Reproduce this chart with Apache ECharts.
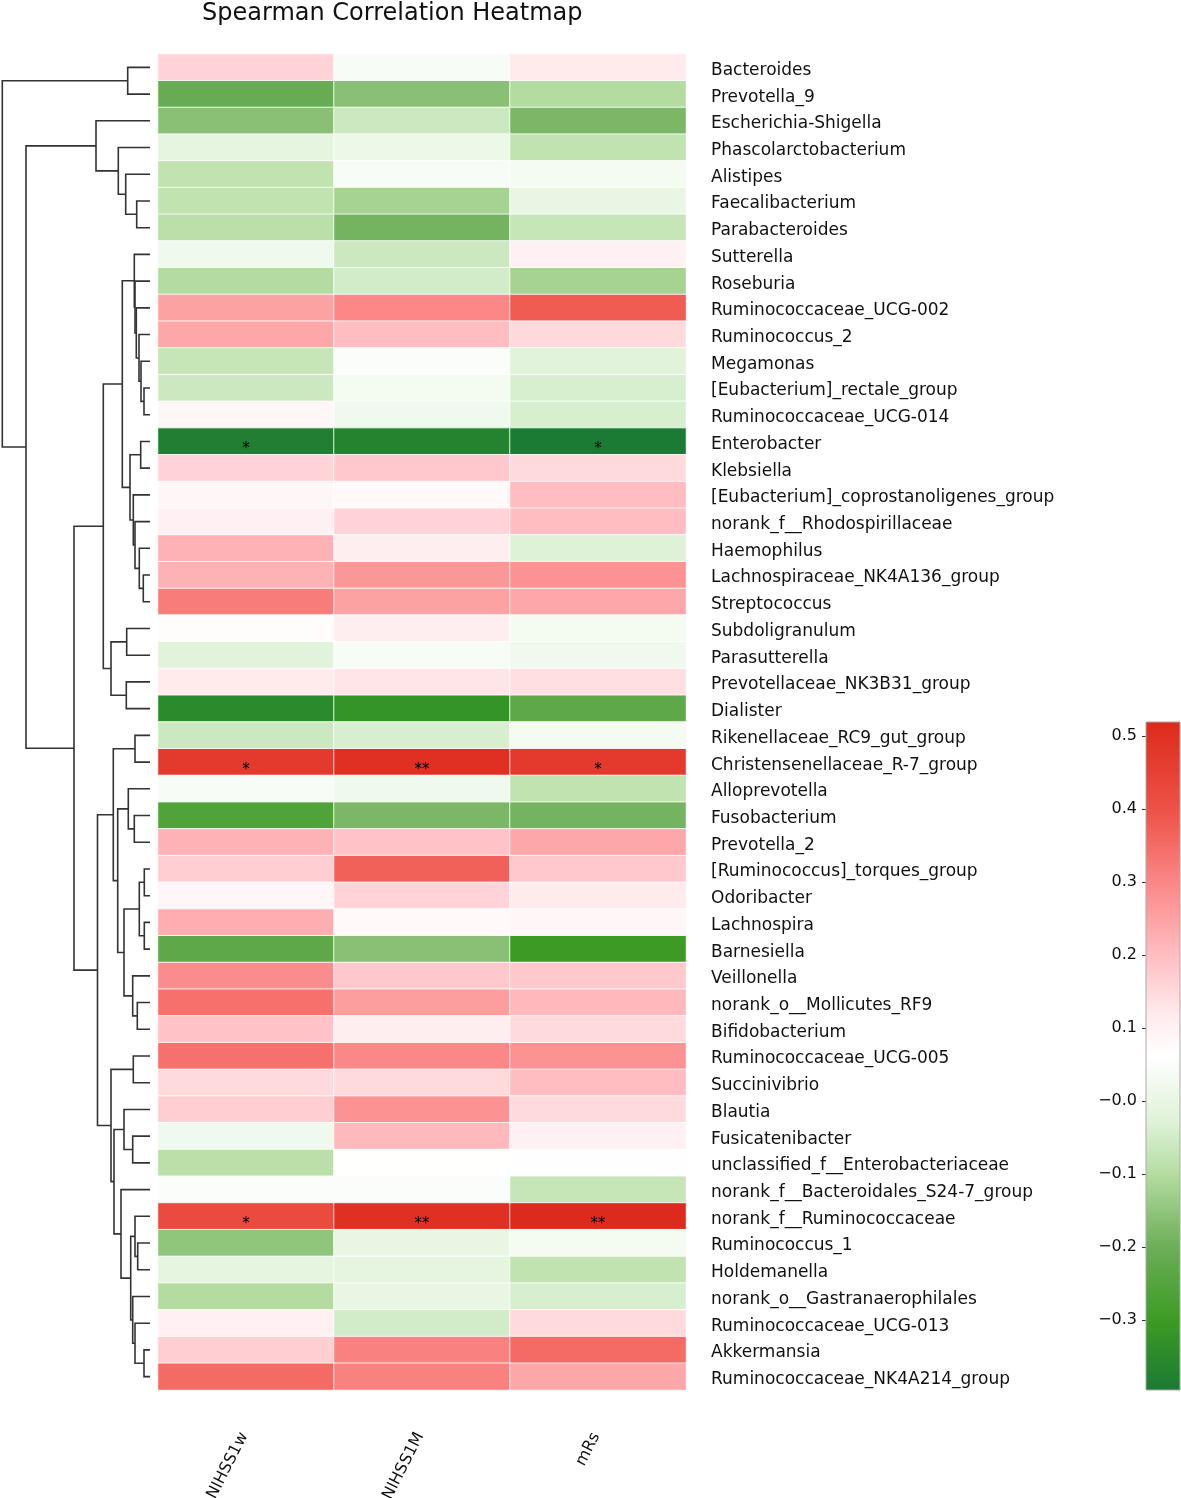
<!DOCTYPE html>
<html><head><meta charset="utf-8">
<script src="https://cdn.jsdelivr.net/npm/echarts@6/dist/echarts.min.js"></script>
<style>html,body{margin:0;padding:0;background:#fff}#chart{width:1181px;height:1498px}</style>
</head><body><div id="chart"></div>
<script>
const columns = ['NIHSS1w', 'NIHSS1M', 'mRs'];
const taxa = ['Bacteroides','Prevotella_9','Escherichia-Shigella','Phascolarctobacterium','Alistipes','Faecalibacterium','Parabacteroides','Sutterella','Roseburia','Ruminococcaceae_UCG-002',
'Ruminococcus_2','Megamonas','[Eubacterium]_rectale_group','Ruminococcaceae_UCG-014','Enterobacter','Klebsiella','[Eubacterium]_coprostanoligenes_group','norank_f__Rhodospirillaceae','Haemophilus','Lachnospiraceae_NK4A136_group',
'Streptococcus','Subdoligranulum','Parasutterella','Prevotellaceae_NK3B31_group','Dialister','Rikenellaceae_RC9_gut_group','Christensenellaceae_R-7_group','Alloprevotella','Fusobacterium','Prevotella_2',
'[Ruminococcus]_torques_group','Odoribacter','Lachnospira','Barnesiella','Veillonella','norank_o__Mollicutes_RF9','Bifidobacterium','Ruminococcaceae_UCG-005','Succinivibrio','Blautia',
'Fusicatenibacter','unclassified_f__Enterobacteriaceae','norank_f__Bacteroidales_S24-7_group','norank_f__Ruminococcaceae','Ruminococcus_1','Holdemanella','norank_o__Gastranaerophilales','Ruminococcaceae_UCG-013','Akkermansia','Ruminococcaceae_NK4A214_group'];

const nihss1w = [0.16,-0.21,-0.16,-0.01,-0.08,-0.08,-0.09,0.02,-0.10,0.25,
 0.24,-0.07,-0.06,0.09,-0.38,0.16,0.09,0.10,0.22,0.22,
 0.32,0.07,-0.02,0.12,-0.35,-0.06,0.47,0.04,-0.26,0.22,
 0.17,0.09,0.23,-0.23,0.29,0.34,0.19,0.34,0.15,0.17,
 0.02,-0.09,0.05,0.42,-0.15,-0.01,-0.10,0.10,0.17,0.35];
const nihss1m = [0.04,-0.16,-0.06,0.01,0.04,-0.12,-0.19,-0.06,-0.05,0.30,
 0.20,0.05,0.03,0.02,-0.37,0.18,0.08,0.16,0.11,0.27,
 0.25,0.11,0.04,0.13,-0.32,-0.04,0.50,0.02,-0.18,0.19,
 0.37,0.16,0.08,-0.16,0.18,0.26,0.11,0.30,0.15,0.28,
 0.21,0.06,0.05,0.50,0.00,-0.01,0.00,-0.05,0.31,0.31];
const mrs = [0.12,-0.10,-0.18,-0.08,0.03,0.00,-0.07,0.10,-0.12,0.38,
 0.15,-0.02,-0.04,-0.04,-0.396,0.15,0.20,0.20,-0.03,0.28,
 0.24,0.03,0.02,0.14,-0.23,0.03,0.47,-0.08,-0.19,0.24,
 0.18,0.12,0.09,-0.30,0.18,0.21,0.15,0.28,0.20,0.15,
 0.10,0.065,-0.07,0.519,0.03,-0.08,-0.04,0.15,0.35,0.24];

// [row, column, mark]
const significance = [[14,0,'*'],[14,2,'*'],[26,0,'*'],[26,1,'**'],[26,2,'*'],[43,0,'*'],[43,1,'**'],[43,2,'**']];

const colorbarTicks = [0.5,0.4,0.3,0.2,0.1,0,-0.1,-0.2,-0.3];
const colorbarTickLabels = ['0.5','0.4','0.3','0.2','0.1','\u22120.0','\u22120.1','\u22120.2','\u22120.3'];

// row dendrogram: [left, right, mergeHeight], leaves are row indices
const dendrogram = [
 [0, 1, 22.3],
 [
  [2, [3, [4, [5, 6, 13.3], 24.3], 31.7], 54],
  [
   [
    [
     [7, [8, [9, [10, [11, [12, 13, 6], 9], 11], 13.7], 15], 15.7],
     [[14, 15, 9.3], [16, [17, [18, [19, 20, 6.7], 10.7], 15], 16.7], 20],
     27.7
    ],
    [[21, 22, 23.3], [23, 24, 23.7], 39],
    46.7
   ],
   [
    [[25, 26, 15], [[27, [28, 29, 15.7], 21.7], [[[30, 31, 5.7], [32, 33, 5.7], 10.7], [34, [35, 36, 12.7], 17.3], 26], 32.3], 36.7],
    [[37, 38, 16.7], [[39, [40, 41, 17.3], 26], [42, [[43, [44, 45, 12.3], 15], [46, [47, [48, 49, 6], 15], 17.3], 19.3], 29], 36], 39],
    52.5
   ],
   76
  ],
  124
 ],
 147.7
];

// ---- styling ----
const FONT = 'DejaVu Sans';
const cmapStops = [
 [0.000,'#1b7a34'],[0.105,'#3c9b24'],[0.214,'#6cae58'],[0.323,'#b4dca0'],[0.40,'#def2d7'],
 [0.50,'#ffffff'],[0.56,'#ffecee'],[0.648,'#ffbfc3'],[0.757,'#fb8888'],[0.866,'#ee5248'],[1.0,'#dc2a1c']
];
function hex2rgb(h){return [1,3,5].map(i=>parseInt(h.substr(i,2),16));}
function sample(f){
  for(let i=1;i<cmapStops.length;i++){
    const [f1,c1]=cmapStops[i-1],[f2,c2]=cmapStops[i];
    if(f<=f2){const t=(f-f1)/(f2-f1);const a=hex2rgb(c1),b=hex2rgb(c2);
      return 'rgb('+a.map((v,k)=>Math.round(v+(b[k]-v)*t)).join(',')+')';}
  }
  return cmapStops[cmapStops.length-1][1];
}
const cmap = []; for(let i=0;i<=100;i++) cmap.push(sample(i/100));

const allVals = nihss1w.concat(nihss1m, mrs);
const vmin = Math.min(...allVals), vmax = Math.max(...allVals);

const colData = [nihss1w, nihss1m, mrs];
const sigMap = {}; significance.forEach(([r,c,s])=>{sigMap[r+'_'+c]=s;});
const heatData = [];
taxa.forEach((t,r)=>{colData.forEach((arr,c)=>{heatData.push([c,r,arr[r]]);});});

// dendrogram segments
const segs = [];
function layout(node){
  if(typeof node==='number') return {y:node,h:0};
  const L=layout(node[0]), R=layout(node[1]), h=node[2];
  segs.push([L.h,L.y,R.h,R.y,h]);
  return {y:(L.y+R.y)/2,h:h};
}
layout(dendrogram);

const chart = echarts.init(document.getElementById('chart'), null, {renderer:'canvas'});
chart.setOption({
  backgroundColor:'#fff',
  animation:false,
  title:{text:'Spearman Correlation Heatmap', left:197, top:-3,
    textStyle:{fontFamily:FONT, fontSize:24, fontWeight:'normal', color:'#111'}},
  grid:[
    {left:158, top:54, width:528, height:1336, containLabel:false, outerBoundsMode:'none'},
    {left:2, top:54, width:148, height:1336, containLabel:false, outerBoundsMode:'none'},
    {left:1146, top:722, width:34, height:668, containLabel:false, outerBoundsMode:'none'}
  ],
  xAxis:[
    {type:'category', gridIndex:0, data:columns, position:'bottom',
      axisLine:{show:false}, axisTick:{show:false}, splitLine:{show:false},
      axisLabel:{rotate:63, margin:40, fontFamily:FONT, fontSize:16, color:'#111', padding:[0,4,0,0]}},
    {type:'value', gridIndex:1, min:0, max:148, inverse:true, show:false},
    {type:'value', gridIndex:2, min:0, max:1, show:false}
  ],
  yAxis:[
    {type:'category', gridIndex:0, data:taxa, inverse:true, position:'right',
      axisLine:{show:false}, axisTick:{show:false}, splitLine:{show:false},
      axisLabel:{margin:25, color:'#111', formatter:v=>'{t|'+v+'}',
        rich:{t:{fontFamily:FONT, fontSize:17, color:'#111', padding:[6,0,0,0]}}}},
    {type:'value', gridIndex:1, min:-0.5, max:49.5, inverse:true, show:false},
    {type:'value', gridIndex:2, min:vmin, max:vmax, position:'left',
      axisLine:{show:false}, splitLine:{show:false},
      axisTick:{show:true, length:4, customValues:colorbarTicks, lineStyle:{color:'#333'}},
      axisLabel:{margin:9, customValues:colorbarTicks, fontFamily:FONT, fontSize:16, color:'#111',
        formatter:v=>{const i=colorbarTicks.findIndex(t=>Math.abs(t-v)<1e-6);return i>=0?colorbarTickLabels[i]:'';}}}
  ],
  visualMap:{type:'continuous', show:false, min:vmin, max:vmax, seriesIndex:0, inRange:{color:cmap}},
  series:[
    {type:'heatmap', xAxisIndex:0, yAxisIndex:0, data:heatData,
      itemStyle:{borderColor:'rgba(255,255,255,0.85)', borderWidth:1},
      label:{show:true, color:'#000', fontFamily:FONT, fontSize:15, offset:[0,8],
        formatter:p=>sigMap[p.data[1]+'_'+p.data[0]]||''},
      emphasis:{disabled:true}},
    {type:'custom', xAxisIndex:1, yAxisIndex:1, data:segs, silent:true,
      renderItem:(params,api)=>{
        const hL=api.value(0), yL=api.value(1), hR=api.value(2), yR=api.value(3), h=api.value(4);
        return {type:'polyline', shape:{points:[api.coord([hL,yL]),api.coord([h,yL]),api.coord([h,yR]),api.coord([hR,yR])]},
          style:{stroke:'#333', lineWidth:1.6, fill:null}};
      }},
    {type:'custom', xAxisIndex:2, yAxisIndex:2, data:[[0,vmin,1,vmax]], silent:true,
      renderItem:(params,api)=>{
        const p1=api.coord([api.value(0),api.value(3)]), p2=api.coord([api.value(2),api.value(1)]);
        return {type:'rect', shape:{x:p1[0],y:p1[1],width:p2[0]-p1[0],height:p2[1]-p1[1]},
          style:{fill:new echarts.graphic.LinearGradient(0,1,0,0,cmapStops.map(([o,c])=>({offset:o,color:c}))),
            stroke:'#aaa', lineWidth:1}};
      }}
  ]
});
</script></body></html>
